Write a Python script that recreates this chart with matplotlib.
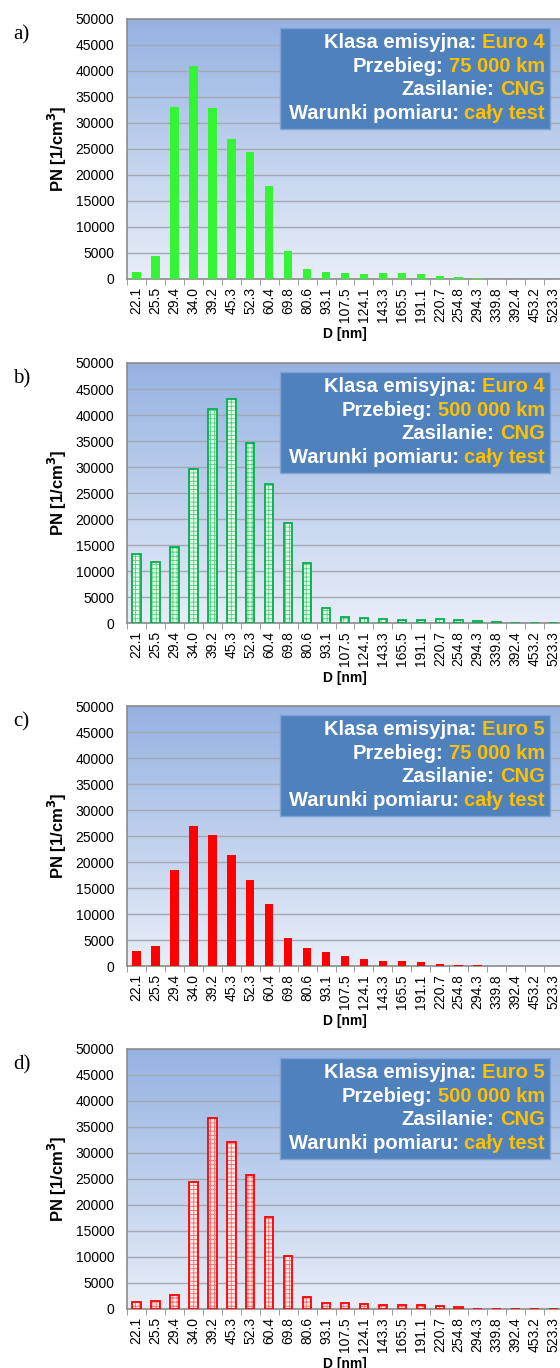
import numpy as np
import matplotlib
matplotlib.use("Agg")
import matplotlib.pyplot as plt
from matplotlib.patches import Rectangle

plt.rcParams['font.family'] = ['Liberation Sans', 'DejaVu Sans']
plt.rcParams['hatch.linewidth'] = 0.6

# particle diameter classes [nm]
diameters = ["22.1", "25.5", "29.4", "34.0", "39.2", "45.3", "52.3", "60.4",
             "69.8", "80.6", "93.1", "107.5", "124.1", "143.3", "165.5",
             "191.1", "220.7", "254.8", "294.3", "339.8", "392.4", "453.2",
             "523.3"]

# particle number concentration [1/cm3] per class
pn_euro4_75k = [1300, 4500, 33000, 40900, 32800, 26900, 24400, 17900,
                5300, 1900, 1400, 1100, 1000, 1100, 1100, 900, 500, 300,
                120, 80, 50, 40, 30]
pn_euro4_500k = [13300, 11800, 14700, 29700, 41100, 43000, 34700, 26700,
                 19300, 11500, 2900, 1200, 1000, 700, 600, 650, 700, 600,
                 300, 200, 60, 40, 30]
pn_euro5_75k = [2900, 3900, 18400, 26900, 25100, 21300, 16600, 12000,
                5300, 3400, 2700, 2000, 1300, 1000, 1000, 800, 450, 250,
                150, 80, 60, 50, 40]
pn_euro5_500k = [1400, 1600, 2600, 24400, 36700, 32100, 25700, 17700,
                 10200, 2300, 1200, 1100, 900, 700, 700, 700, 500, 300,
                 60, 50, 40, 40, 30]

panel_tags = ["a)", "b)", "c)", "d)"]
emission_class = ["Euro 4", "Euro 4", "Euro 5", "Euro 5"]
mileage = ["75 000 km", "500 000 km", "75 000 km", "500 000 km"]
fuel = ["CNG", "CNG", "CNG", "CNG"]
conditions = ["cały test", "cały test", "cały test", "cały test"]
series = [pn_euro4_75k, pn_euro4_500k, pn_euro5_75k, pn_euro5_500k]
hatched = [False, True, False, True]

W, H = 560, 1368
fig = plt.figure(figsize=(W / 100, H / 100), dpi=100)

ax_left, ax_w, ax_h = 127, 436, 260
tops = [19, 363, 706, 1049]

grad = np.linspace(0, 1, 256).reshape(-1, 1)
top_col = np.array([0x95, 0xb2, 0xe2]) / 255
bot_col = np.array([0xe8, 0xee, 0xf8]) / 255
grad_img = top_col[None, None, :] * (1 - grad[..., None]) + bot_col[None, None, :] * grad[..., None]

orange = "#ffc000"
box_blue = "#4f81bd"

for k in range(4):
    top = tops[k]
    ax = fig.add_axes([ax_left / W, 1 - (top + ax_h) / H, ax_w / W, ax_h / H])
    ax.imshow(grad_img, extent=[0, 1, 0, 1], transform=ax.transAxes,
              aspect='auto', zorder=0)

    x = np.arange(len(diameters))
    vals = series[k]
    green = k < 2
    if not hatched[k]:
        col = "#33f533" if green else "#ff0000"
        ax.bar(x, vals, width=0.45, color=col, zorder=3)
    else:
        edge = "#00b050" if green else "#ff0000"
        fill = "#e6f7ea" if green else "#ffe8e8"
        hcol = "#4fd27a" if green else "#ff6a6a"
        ax.bar(x, vals, width=0.45, facecolor=fill, edgecolor=hcol,
               linewidth=0, hatch="++++", zorder=3)
        ax.bar(x, vals, width=0.45, fill=False, edgecolor=edge,
               linewidth=1.3, zorder=4)

    ax.set_xlim(-0.5, len(diameters) - 0.5)
    ax.set_ylim(0, 50000)
    ax.set_yticks(np.arange(0, 50001, 5000))
    ax.yaxis.grid(True, color="#a3a8b3", linewidth=1, zorder=1)
    ax.set_axisbelow(True)
    ax.tick_params(axis='y', length=0, pad=9, labelsize=10)
    ax.set_xticks(x)
    ax.set_xticklabels(diameters, rotation=90, fontsize=10)
    ax.set_xticks(np.arange(-0.5, len(diameters)), minor=True)
    ax.tick_params(axis='x', which='major', length=0, pad=6)
    ax.tick_params(axis='x', which='minor', length=4, color="#8c8c8c")
    for s in ax.spines.values():
        s.set_color("#8c8c8c")
        s.set_linewidth(1.2)

    ax.set_xlabel("D [nm]", fontsize=10, fontweight='bold')
    ax.xaxis.set_label_coords(0.5, -0.185)
    ax.text(-0.16, 0.5, "PN [1/cm$^\\mathbf{3}$]", transform=ax.transAxes,
            rotation=90, ha='center', va='center', fontsize=12,
            fontweight='bold')

    fig.text(13 / W, 1 - (top + 20) / H, panel_tags[k],
             family=['Liberation Serif'], fontsize=15, ha='left',
             va='baseline')

    # description box in the upper right of the plot area
    ax.add_patch(Rectangle((0.351, 0.577), 0.619, 0.388,
                           transform=ax.transAxes, facecolor=box_blue,
                           edgecolor="#7fa3d4", linewidth=1, zorder=5))
    lines = [("Klasa emisyjna:", emission_class[k]),
             ("Przebieg:", mileage[k]),
             ("Zasilanie:", fuel[k]),
             ("Warunki pomiaru:", conditions[k])]
    ys = [0.908, 0.817, 0.727, 0.638]
    for (lab, val), yy in zip(lines, ys):
        vt = ax.text(0.958, yy, val, transform=ax.transAxes, ha='right',
                     va='center', color=orange, fontsize=14.5,
                     fontweight='bold', zorder=6)
        ax.annotate(lab, xy=(0, 0.5), xycoords=vt, xytext=(-4, 0),
                    textcoords='offset points', ha='right', va='center',
                    color='white', fontsize=14.5, fontweight='bold', zorder=6)

fig.savefig("out.png", dpi=100)
